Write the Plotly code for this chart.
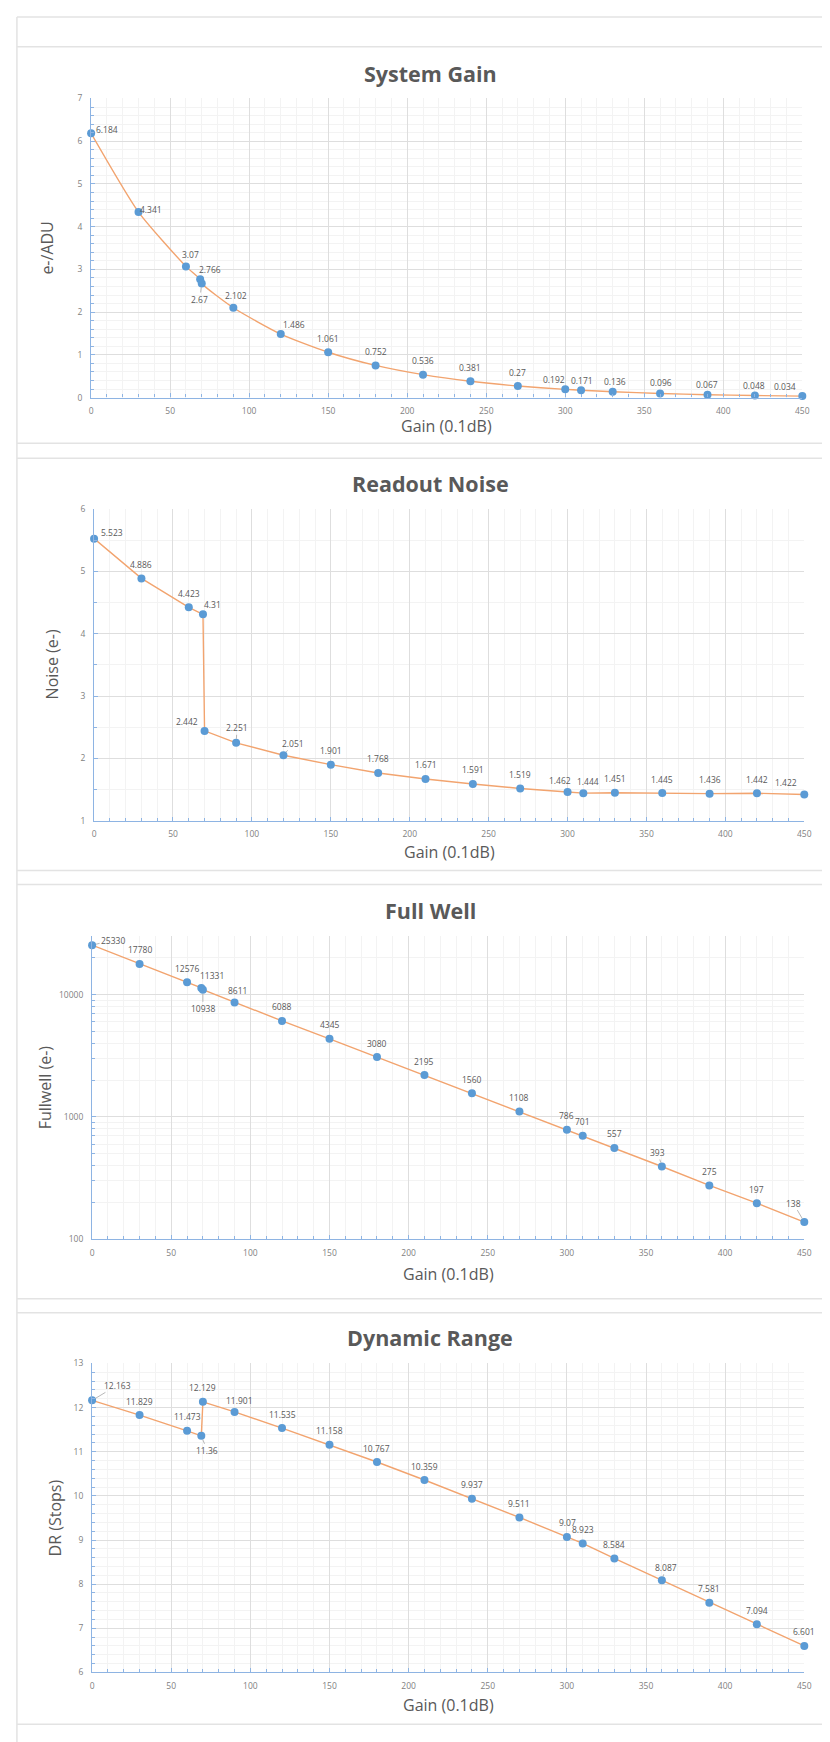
import math
import plotly.graph_objects as go

# ---------------- data ----------------
gain = [0, 30, 60, 69, 70, 90, 120, 150, 180, 210, 240, 270, 300, 310, 330, 360, 390, 420, 450]
system_gain = [6.184, 4.341, 3.07, 2.766, 2.67, 2.102, 1.486, 1.061, 0.752, 0.536, 0.381, 0.27,
               0.192, 0.171, 0.136, 0.096, 0.067, 0.048, 0.034]
readout_noise = [5.523, 4.886, 4.423, 4.31, 2.442, 2.251, 2.051, 1.901, 1.768, 1.671, 1.591, 1.519,
                 1.462, 1.444, 1.451, 1.445, 1.436, 1.442, 1.422]
full_well = [25330, 17780, 12576, 11331, 10938, 8611, 6088, 4345, 3080, 2195, 1560, 1108,
             786, 701, 557, 393, 275, 197, 138]
dynamic_range = [12.163, 11.829, 11.473, 11.36, 12.129, 11.901, 11.535, 11.158, 10.767, 10.359, 9.937,
                 9.511, 9.07, 8.923, 8.584, 8.087, 7.581, 7.094, 6.601]

titles = ["System Gain", "Readout Noise", "Full Well", "Dynamic Range"]
y_titles = ["e-/ADU", "Noise (e-)", "Fullwell (e-)", "DR (Stops)"]
x_title = "Gain (0.1dB)"
log_ticks = [100, 1000, 10000]

# ---------------- styling ----------------
W, H = 830, 1742
# plot boxes in pixels: left, right, top, bottom
boxes = [(82, 801, 85, 386), (85, 803, 498, 812), (83, 803, 928, 1233), (83, 803, 1358, 1669)]
title_y = [60, 472, 902, 1332]
xtitle_y = [415, 843, 1268, 1702]
ytitle_x = [37, 42, 35, 45]
border_lines = [3, 33, 432, 447, 862, 876, 1293, 1307, 1721]

# label offsets (dx, dy, leader) per chart index -> point index ; default (0, -14, False)
label_offsets = [
    {0: (16, -4, False), 1: (12, -3, False), 2: (5, -12, False), 3: (10, -10, False),
     4: (-2, 16, True), 5: (3, -12, False), 6: (13, -10, False), 12: (-11, -10, False),
     13: (1, -10, False), 14: (2, -10, False), 15: (1, -11, False), 16: (0, -10, False),
     17: (-1, -10, False), 18: (-17, -10, False)},
    {0: (18, -6, False), 3: (10, -10, False), 4: (-18, -9, False), 5: (1, -15, True),
     6: (10, -12, True), 12: (-8, -12, False), 13: (5, -12, False), 18: (-18, -12, False)},
    {0: (21, -5, True), 3: (11, -12, False), 4: (0, 19, True), 5: (3, -12, False),
     15: (-4, -14, True), 18: (-11, -19, True)},
    {0: (25, -15, True), 3: (6, 15, True), 5: (5, -11, False), 12: (1, -14, False),
     15: (4, -13, True)},
]

BLUE = "#5B9BD5"
ORANGE = "#F2A46F"
AXIS_BLUE = "#8EB4E3"
GRID = "#DEDEDE"
MINOR_GRID = "#F3F3F3"
TEXT = "#595959"
TICK_TEXT = "#7F7F7F"
FONT = "Open Sans"

series = [system_gain, readout_noise, full_well, dynamic_range]
shapes_spline = ["spline", "linear", "linear", "linear"]

fig = go.Figure()
annotations = []
shapes = []

for i, vals in enumerate(series):
    n = i + 1
    xa = "x" if n == 1 else f"x{n}"
    ya = "y" if n == 1 else f"y{n}"
    fig.add_trace(go.Scatter(
        x=gain, y=vals, xaxis=xa, yaxis=ya, mode="lines+markers",
        line=dict(color=ORANGE, width=1.4, shape=shapes_spline[i], smoothing=0.6),
        marker=dict(color=BLUE, size=8),
        cliponaxis=False, showlegend=False, hoverinfo="x+y",
    ))
    l, r, t, b = boxes[i]
    xdom = [l / W, r / W]
    ydom = [1 - b / H, 1 - t / H]
    xaxis = dict(
        domain=xdom, anchor=ya, range=[0, 450], dtick=50, tick0=0,
        showgrid=True, gridcolor=GRID, gridwidth=1,
        showline=True, linecolor=AXIS_BLUE, linewidth=1.2,
        ticks="inside", ticklen=4, tickcolor=AXIS_BLUE,
        tickfont=dict(family=FONT, size=8.5, color=TICK_TEXT),
        ticklabelstandoff=5, zeroline=False, fixedrange=True,
        minor=dict(dtick=10, showgrid=True, gridcolor=MINOR_GRID, ticks="inside",
                   ticklen=3, tickcolor=AXIS_BLUE),
    )
    if i == 2:
        minor_vals = [k * 10 ** e for e in range(2, 5) for k in range(2, 10) if k * 10 ** e <= 30000]
        yaxis = dict(
            domain=ydom, anchor=xa, type="log", range=[2, math.log10(30000)],
            tickmode="array", tickvals=log_ticks, ticktext=[str(v) for v in log_ticks],
            minor=dict(tickmode="array", tickvals=minor_vals, showgrid=True, gridcolor=MINOR_GRID,
                       ticks="inside", ticklen=3, tickcolor=AXIS_BLUE),
        )
    else:
        rng = [[0, 7], [1, 6], None, [6, 13]][i]
        mdt = [0.2, 0.5, None, 0.2][i]
        yaxis = dict(
            domain=ydom, anchor=xa, range=rng, dtick=1, tick0=0,
            minor=dict(dtick=mdt, showgrid=True, gridcolor=MINOR_GRID, ticks="inside",
                       ticklen=3, tickcolor=AXIS_BLUE),
        )
    yaxis.update(
        showgrid=True, gridcolor=GRID, gridwidth=1,
        showline=True, linecolor=AXIS_BLUE, linewidth=1.2,
        ticks="inside", ticklen=4, tickcolor=AXIS_BLUE,
        tickfont=dict(family=FONT, size=8.5, color=TICK_TEXT),
        ticklabelstandoff=6, zeroline=False, fixedrange=True,
    )
    fig.layout[("xaxis" if n == 1 else f"xaxis{n}")] = xaxis
    fig.layout[("yaxis" if n == 1 else f"yaxis{n}")] = yaxis

    # data labels
    for j, (gx, v) in enumerate(zip(gain, vals)):
        dx, dy, leader = label_offsets[i].get(j, (0, -14, False))
        yv = math.log10(v) if i == 2 else v
        annotations.append(dict(
            x=gx, y=yv, xref=xa, yref=ya, text=str(v),
            showarrow=True, ax=dx, ay=dy, axref="pixel", ayref="pixel",
            arrowhead=0, arrowwidth=0.8, standoff=4,
            arrowcolor="#A6A6A6" if leader else "rgba(0,0,0,0)",
            font=dict(family=FONT, size=8.5, color=TEXT),
        ))

    # chart title
    annotations.append(dict(
        x=425 / W, y=1 - title_y[i] / H, xref="paper", yref="paper",
        text=f"<b>{titles[i]}</b>", showarrow=False, xanchor="center", yanchor="middle",
        font=dict(family=FONT, size=21.5, color=TEXT),
    ))
    # x title
    annotations.append(dict(
        x=(l + r) / 2 / W, y=1 - xtitle_y[i] / H, xref="paper", yref="paper",
        text=x_title, showarrow=False, xanchor="center", yanchor="middle",
        font=dict(family=FONT, size=16, color=TEXT),
    ))
    # y title
    annotations.append(dict(
        x=ytitle_x[i] / W, y=1 - (t + b) / 2 / H, xref="paper", yref="paper",
        text=y_titles[i], showarrow=False, xanchor="center", yanchor="middle", textangle=-90,
        font=dict(family=FONT, size=16, color=TEXT),
    ))

for yb in border_lines:
    shapes.append(dict(type="line", xref="paper", yref="paper", x0=7 / W, x1=1,
                       y0=1 - yb / H, y1=1 - yb / H, line=dict(color="#E3E3E3", width=1.5), layer="below"))
shapes.append(dict(type="line", xref="paper", yref="paper", x0=7 / W, x1=7 / W,
                   y0=0, y1=1 - 3 / H, line=dict(color="#E3E3E3", width=1.5), layer="below"))

fig.update_layout(
    width=W, height=H, margin=dict(l=0, r=0, t=0, b=0),
    paper_bgcolor="white", plot_bgcolor="white",
    annotations=annotations, shapes=shapes,
    font=dict(family=FONT, color=TEXT),
)

fig.write_html("out.html")
